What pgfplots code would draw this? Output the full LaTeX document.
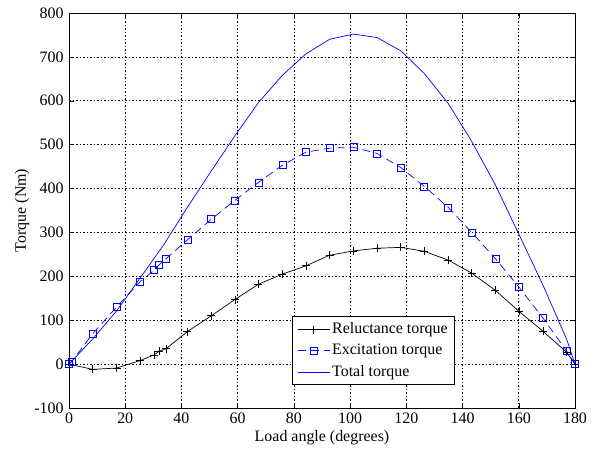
\documentclass[border=0pt]{standalone}
\usepackage{pgfplots}
\pgfplotsset{compat=1.18}
\usepackage{fontspec}
\setmainfont{Liberation Serif}
\begin{document}
\fontsize{16}{18}\selectfont
\begin{tikzpicture}[x=1bp,y=1bp]
\begin{axis}[
  scale only axis, width=506bp, height=395bp,
  xmin=0, xmax=180, ymin=-100, ymax=800,
  xtick={0,20,...,180}, ytick={-100,0,...,800},
  tick align=inside, major tick length=5bp,
  tick style={black, line width=0.5pt},
  axis line style={black, line width=0.8pt},
  grid=major, grid style={black, dash pattern=on 1.5bp off 2bp, line width=0.6pt},
  /pgf/number format/assume math mode=true,
  ticklabel style={font=\fontsize{16}{18}\selectfont},
  xticklabel style={yshift=1bp},
  label style={font=\fontsize{16}{18}\selectfont},
  xlabel={Load angle (degrees)}, ylabel={Torque (Nm)},
  xlabel style={at={(axis description cs:0.5,-0.074)}, anchor=center},
  ylabel style={at={(axis description cs:-0.093,0.5)}, anchor=center},
  legend style={at={(0.763,0.058)}, anchor=south east, draw=black, line width=0.8pt,
    font=\fontsize{16}{18}\selectfont, inner xsep=5bp, inner ysep=4bp, row sep=4bp,
    /tikz/every even column/.append style={column sep=3bp}},
  legend image code/.code={\draw[mark repeat=2,mark phase=2,#1] plot coordinates {(0bp,0bp) (16bp,0bp) (32bp,0bp)};},
  legend cell align=left,
]
\addplot[black, line width=0.7pt, mark=+, mark size=4bp, mark options={solid}] coordinates {
(0,0) (8.4,-12) (16.9,-9) (25.3,8) (30.3,21) (32,29) (34.5,35) (42.1,74) (50.6,110)
(59,147) (67.4,182) (75.9,205) (84.3,224) (92.7,248) (101.2,258) (109.6,264) (118,266)
(126.4,257) (134.9,237) (143.3,207) (151.7,168) (160.1,120) (168.6,75) (177,27) (180,0)};
\addlegendentry{Reluctance torque}
\addplot[blue, line width=0.7pt, dash pattern=on 8bp off 5bp, mark=square, mark size=3.5bp, mark options={solid}] coordinates {
(0,0) (1,6) (8.4,69) (16.9,130) (25.3,188) (30.3,214) (32,226) (34.3,239) (42.1,283) (50.6,330)
(59,373) (67.4,414) (75.9,453) (84.3,483) (92.7,492) (101.2,494) (109.6,480) (118,448)
(126.4,405) (134.9,357) (143.3,300) (151.7,240) (160.1,175) (168.6,105) (177,30) (180,0)};
\addlegendentry{Excitation torque}
\addplot[blue, line width=0.7pt] coordinates {
(0,0) (8.4,57) (16.9,121) (25.3,196) (33.7,272) (42.1,357) (50.6,440) (59,520) (67.4,596)
(75.9,658) (84.3,707) (92.7,740) (101.2,752) (109.6,744) (118,714) (126.4,662) (134.9,594)
(143.3,507) (151.7,408) (160.1,295) (168.6,180) (177,57) (180,0)};
\addlegendentry{Total torque}
\end{axis}
\useasboundingbox ([shift={(-69bp,-42bp)}]current axis.south west) rectangle ([shift={(30bp,13bp)}]current axis.north east);
\end{tikzpicture}
\end{document}
